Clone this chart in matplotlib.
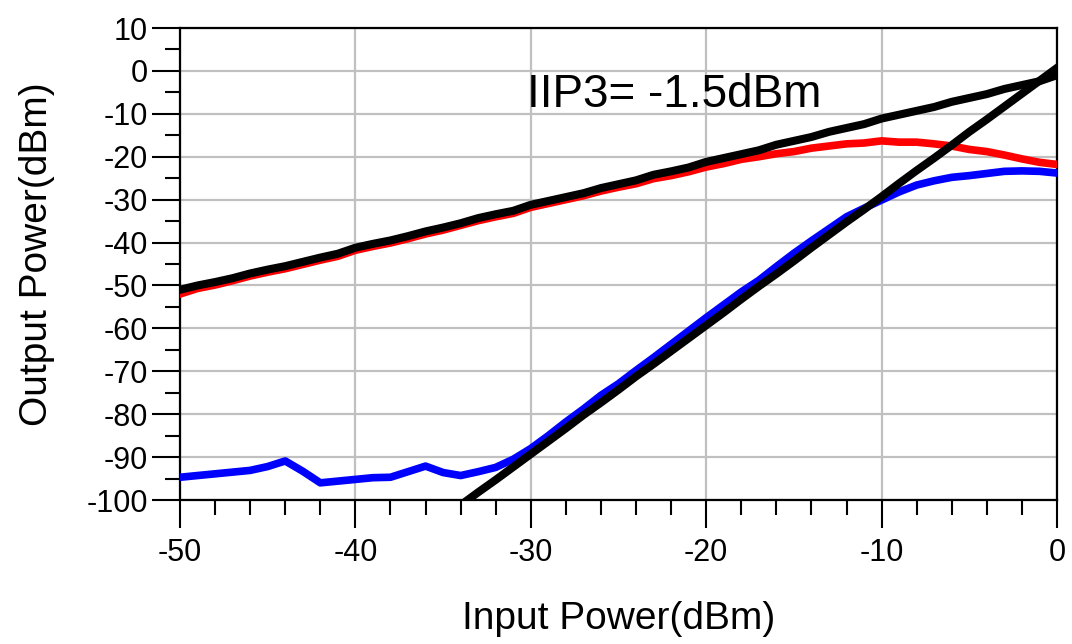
import matplotlib
matplotlib.use("Agg")
import matplotlib.pyplot as plt
from matplotlib.ticker import MultipleLocator
import numpy as np

plt.rcParams['font.family'] = ['Liberation Sans', 'DejaVu Sans']
plt.rcParams['axes.unicode_minus'] = False

# input power sweep (dBm)
pin = list(range(-50, 1))

# black: linear extrapolation of fundamental
fund_ext = [-51.0, -50.0, -49.2, -48.3, -47.2, -46.3, -45.5, -44.5, -43.5, -42.6,
            -41.2, -40.3, -39.5, -38.5, -37.4, -36.5, -35.5, -34.3, -33.4, -32.6,
            -31.2, -30.3, -29.4, -28.5, -27.3, -26.4, -25.5, -24.2, -23.4, -22.5,
            -21.2, -20.3, -19.4, -18.5, -17.2, -16.3, -15.4, -14.2, -13.3, -12.4,
            -11.1, -10.2, -9.3, -8.4, -7.2, -6.3, -5.4, -4.2, -3.3, -2.4, -1.0]

# red: simulated fundamental output
fund = [-52.0, -50.7, -49.9, -48.9, -47.8, -46.9, -46.1, -45.1, -44.1, -43.2,
        -41.8, -40.9, -40.1, -39.1, -38.0, -37.1, -36.0, -34.9, -34.0, -33.2,
        -31.8, -30.9, -30.0, -29.1, -28.0, -27.1, -26.3, -25.1, -24.4, -23.5,
        -22.4, -21.6, -20.6, -20.0, -19.3, -18.8, -18.0, -17.5, -17.0, -16.8,
        -16.3, -16.6, -16.6, -17.0, -17.5, -18.3, -18.8, -19.6, -20.5, -21.3, -21.8]

# blue: simulated IM3 output
im3 = [-94.7, -94.3, -93.9, -93.5, -93.1, -92.2, -90.9, -93.3, -96.0, -95.6,
       -95.2, -94.8, -94.7, -93.4, -92.1, -93.6, -94.3, -93.4, -92.4, -90.5,
       -88.0, -85.0, -81.8, -78.8, -75.6, -72.9, -69.8, -66.8, -63.7, -60.6,
       -57.5, -54.5, -51.5, -48.8, -45.6, -42.5, -39.6, -36.8, -34.0, -32.0,
       -30.1, -28.2, -26.6, -25.6, -24.8, -24.4, -23.9, -23.4, -23.3, -23.4, -23.8]

# black: linear extrapolation of IM3 (slope 3)
pin_im3_ext = list(range(-34, 1))
im3_ext = [-101.2, -98.2, -95.3, -92.3, -89.3, -86.3, -83.3, -80.2, -77.3, -74.3,
           -71.2, -68.3, -65.3, -62.3, -59.3, -56.3, -53.2, -50.2, -47.3, -44.3,
           -41.2, -38.2, -35.2, -32.3, -29.3, -26.2, -23.2, -20.3, -17.3, -14.2,
           -11.3, -8.3, -5.3, -2.3, 0.7]

fig = plt.figure(figsize=(10.72, 6.44), dpi=100)
ax = fig.add_axes([0.1679, 0.2236, 0.8181, 0.7329])

ax.plot(pin, im3, color='#0000ff', lw=5.5, solid_joinstyle='round', zorder=3)
ax.plot(pin, fund, color='#ff0000', lw=5.5, solid_joinstyle='round', zorder=3)
ax.plot(pin, fund_ext, color='black', lw=5.8, solid_joinstyle='round', zorder=4)
ax.plot(pin_im3_ext, im3_ext, color='black', lw=5.8, solid_joinstyle='round', zorder=4)

ax.set_xlim(-50, 0)
ax.set_ylim(-100, 10)
ax.xaxis.set_major_locator(MultipleLocator(10))
ax.xaxis.set_minor_locator(MultipleLocator(2))
ax.yaxis.set_major_locator(MultipleLocator(10))
ax.yaxis.set_minor_locator(MultipleLocator(5))

ax.grid(True, which='major', color='#c0c0c0', lw=1.6, zorder=0)
ax.set_axisbelow(True)

ax.tick_params(which='major', direction='out', length=20, width=1.5, labelsize=22)
ax.tick_params(which='minor', direction='out', length=11, width=1.5)
ax.tick_params(axis='y', which='major', pad=3)
ax.tick_params(axis='x', which='major', pad=7)
for s in ax.spines.values():
    s.set_linewidth(1.6)

ax.set_xlabel('Input Power(dBm)', fontsize=28)
ax.xaxis.set_label_coords(0.5, -0.252)
ax.xaxis.label.set_va('center')
ax.set_ylabel('Output Power(dBm)', fontsize=28)
ax.yaxis.set_label_coords(-0.163, 0.52)
ax.yaxis.label.set_va('center')

ax.text(-30.2, -8.4, 'IIP3= -1.5dBm', fontsize=33, va='baseline', ha='left', zorder=5)

fig.savefig('out.png', dpi=100)
